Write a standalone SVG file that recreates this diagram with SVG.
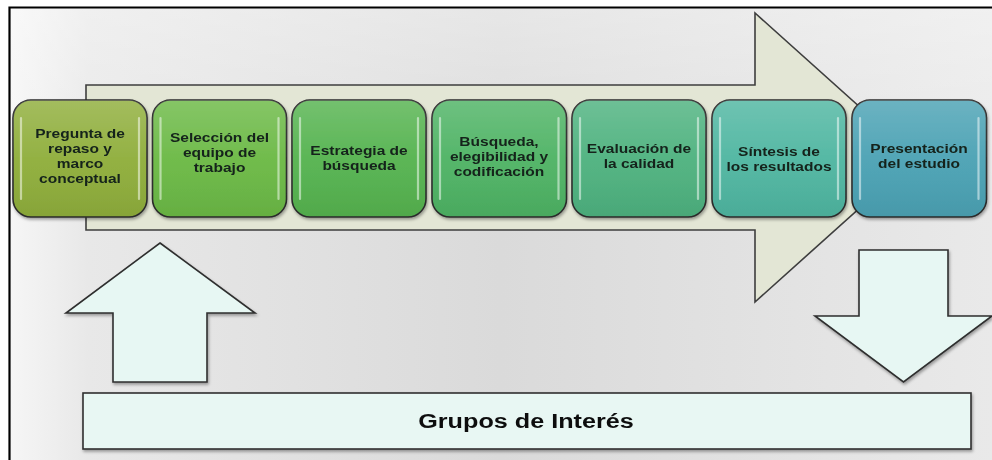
<svg xmlns="http://www.w3.org/2000/svg" width="992" height="460" viewBox="0 0 992 460">
  <defs>
    <linearGradient id="bg" x1="0" y1="0" x2="1" y2="0">
      <stop offset="0" stop-color="#f6f6f6"/>
      <stop offset="0.08" stop-color="#e8e8e8"/>
      <stop offset="0.5" stop-color="#dadada"/>
      <stop offset="1" stop-color="#e9e9e9"/>
    </linearGradient>
    <linearGradient id="bgTop" x1="0" y1="0" x2="0" y2="1">
      <stop offset="0" stop-color="#ffffff" stop-opacity="0.35"/>
      <stop offset="0.4" stop-color="#ffffff" stop-opacity="0"/>
    </linearGradient>
    <linearGradient id="gloss" x1="0" y1="0" x2="0" y2="1">
      <stop offset="0" stop-color="#ffffff" stop-opacity="0.18"/>
      <stop offset="0.5" stop-color="#ffffff" stop-opacity="0.04"/>
      <stop offset="1" stop-color="#000000" stop-opacity="0.06"/>
    </linearGradient>
    <filter id="sh" x="-10%" y="-10%" width="120%" height="130%">
      <feDropShadow dx="1" dy="2" stdDeviation="1.5" flood-color="#000" flood-opacity="0.35"/>
    </filter>
    <style>
      .box { stroke: #2b2b2b; stroke-width: 1.6; }
      .hl { fill: none; stroke: #ffffff; stroke-opacity: 0.5; stroke-width: 2.2; stroke-linecap: round; }
      .lbl { font-family: "Liberation Sans", Arial, sans-serif; font-weight: bold; font-size: 13.5px; fill: #14231a; text-anchor: middle; }
      .arr { fill: #e7f7f3; stroke: #2f2f2f; stroke-width: 1.6; stroke-linejoin: miter; }
      .big { fill: #e3e6d5; stroke: #3e3e3e; stroke-width: 1.6; }
      .grp { font-family: "Liberation Sans", Arial, sans-serif; font-weight: bold; font-size: 21px; fill: #111; text-anchor: middle; }
    </style>
  </defs>

  <!-- background -->
  <rect x="0" y="0" width="992" height="460" fill="#ffffff"/>
  <rect x="9" y="7" width="983" height="453" fill="url(#bg)"/>
  <rect x="9" y="7" width="983" height="453" fill="url(#bgTop)"/>
  <path d="M9.5 460 V7.5 H992" fill="none" stroke="#000" stroke-width="2.2"/>

  <!-- big process arrow -->
  <g id="process-arrow">
    <path class="big" d="M86 85 H755 V13 L916 157.5 L755 302 V230 H86 Z"/>
  </g>

  <!-- nodes -->
  <g id="n1" filter="url(#sh)">
    <rect class="box" x="13" y="100" width="134" height="117" rx="18" fill="#8fae3b"/>
    <rect x="13" y="100" width="134" height="117" rx="18" fill="url(#gloss)"/>
    <path class="hl" d="M21 118 V199 M139 118 V199"/>
    <text class="lbl" transform="translate(80 0) scale(1.15 1)"><tspan x="0" y="138">Pregunta de</tspan><tspan x="0" y="153">repaso y</tspan><tspan x="0" y="168">marco</tspan><tspan x="0" y="183">conceptual</tspan></text>
  </g>
  <g id="n2" filter="url(#sh)">
    <rect class="box" x="152.5" y="100" width="134" height="117" rx="18" fill="#6bb945"/>
    <rect x="152.5" y="100" width="134" height="117" rx="18" fill="url(#gloss)"/>
    <path class="hl" d="M160.5 118 V199 M278.5 118 V199"/>
    <text class="lbl" transform="translate(219.5 0) scale(1.15 1)"><tspan x="0" y="142">Selección del</tspan><tspan x="0" y="157">equipo de</tspan><tspan x="0" y="172">trabajo</tspan></text>
  </g>
  <g id="n3" filter="url(#sh)">
    <rect class="box" x="292" y="100" width="134" height="117" rx="18" fill="#55b34f"/>
    <rect x="292" y="100" width="134" height="117" rx="18" fill="url(#gloss)"/>
    <path class="hl" d="M300 118 V199 M418 118 V199"/>
    <text class="lbl" transform="translate(359 0) scale(1.15 1)"><tspan x="0" y="155">Estrategia de</tspan><tspan x="0" y="170">búsqueda</tspan></text>
  </g>
  <g id="n4" filter="url(#sh)">
    <rect class="box" x="432" y="100" width="134.5" height="117" rx="18" fill="#4eb364"/>
    <rect x="432" y="100" width="134.5" height="117" rx="18" fill="url(#gloss)"/>
    <path class="hl" d="M440 118 V199 M558.5 118 V199"/>
    <text class="lbl" transform="translate(499 0) scale(1.15 1)"><tspan x="0" y="146">Búsqueda,</tspan><tspan x="0" y="161">elegibilidad y</tspan><tspan x="0" y="176">codificación</tspan></text>
  </g>
  <g id="n5" filter="url(#sh)">
    <rect class="box" x="572" y="100" width="134" height="117" rx="18" fill="#4eb27f"/>
    <rect x="572" y="100" width="134" height="117" rx="18" fill="url(#gloss)"/>
    <path class="hl" d="M580 118 V199 M698 118 V199"/>
    <text class="lbl" transform="translate(639 0) scale(1.15 1)"><tspan x="0" y="153">Evaluación de</tspan><tspan x="0" y="168">la calidad</tspan></text>
  </g>
  <g id="n6" filter="url(#sh)">
    <rect class="box" x="712" y="100" width="134" height="117" rx="18" fill="#4fb6a1"/>
    <rect x="712" y="100" width="134" height="117" rx="18" fill="url(#gloss)"/>
    <path class="hl" d="M720 118 V199 M838 118 V199"/>
    <text class="lbl" transform="translate(779 0) scale(1.15 1)"><tspan x="0" y="156">Síntesis de</tspan><tspan x="0" y="171">los resultados</tspan></text>
  </g>
  <g id="n7" filter="url(#sh)">
    <rect class="box" x="852" y="100" width="134.5" height="117" rx="18" fill="#4ba2b4"/>
    <rect x="852" y="100" width="134.5" height="117" rx="18" fill="url(#gloss)"/>
    <path class="hl" d="M860 118 V199 M978.5 118 V199"/>
    <text class="lbl" transform="translate(919 0) scale(1.15 1)"><tspan x="0" y="153">Presentación</tspan><tspan x="0" y="168">del estudio</tspan></text>
  </g>

  <!-- connectors: block arrows -->
  <g id="connectors" filter="url(#sh)">
    <path class="arr" d="M160 243 L255 313 H207 V382 H113 V313 H66 Z"/>
    <path class="arr" d="M859 250 H948 V316 H992 L903.5 382 L815 316 H859 Z"/>
  </g>

  <!-- stakeholders -->
  <g id="grupos" filter="url(#sh)">
    <rect x="83" y="393" width="888" height="56" fill="#e8f7f3" stroke="#2f2f2f" stroke-width="1.6"/>
    <text class="grp" transform="translate(526 0) scale(1.2 1)" x="0" y="428.5">Grupos de Interés</text>
  </g>
</svg>
